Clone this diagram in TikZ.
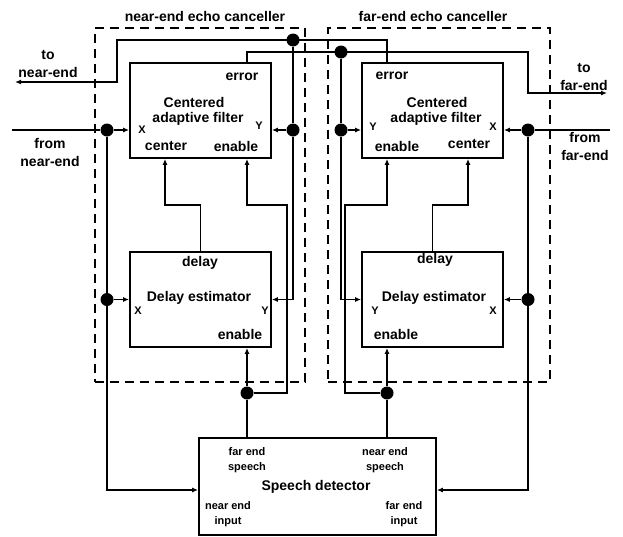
\documentclass[tikz,border=0pt]{standalone}
\usepackage{fontspec}
\setmainfont{Liberation Sans}
\usetikzlibrary{arrows.meta,positioning}

\tikzset{
  block/.style={draw, line width=1.8pt, minimum width=141pt, minimum height=95pt, inner sep=0pt},
  canceller/.style={draw, line width=1.2pt, dash pattern=on 9pt off 6pt},
  junction/.style={circle, fill, inner sep=0pt, minimum size=13pt},
  wire/.style={line width=1.2pt},
  feed/.style={wire, -{Latex[length=6pt,width=5pt]}},
  txt/.style={font=\fontsize{14}{18}\selectfont\bfseries, inner sep=0pt, align=center},
  port/.style={font=\fontsize{11}{15}\selectfont\bfseries, inner sep=0pt, align=center},
}

\begin{document}
\begin{tikzpicture}[x=1pt,y=-1pt]
\useasboundingbox (0,0) rectangle (623,536);

% echo canceller frames
\node[canceller, minimum width=210pt, minimum height=354pt] (ecN) at (200,205) {};
\node[canceller, minimum width=222pt, minimum height=354pt] (ecF) at (439,205) {};
\node[txt] (ecNl) at (205,16) {near-end echo canceller};
\node[txt] (ecFl) at (433,16) {far-end echo canceller};

% blocks
\node[block] (cafN) at (200.5,110.5) {};
\node[block] (delN) at (200.5,299.5) {};
\node[block] (cafF) at (432.5,110.5) {};
\node[block] (delF) at (432.5,299.5) {};
\node[block, minimum width=237pt, minimum height=97pt] (sd) at (317.5,486.5) {};

% block texts, near end
\node[txt] (cafNerr) at (242,77) {error};
\node[txt] (cafNt1) at (194,102) {Centered};
\node[txt] (cafNt2) at (198,119) {adaptive filter};
\node[port] (cafNx) at (142,130) {X};
\node[port] (cafNy) at (259,126) {Y};
\node[txt] (cafNc) at (166,146) {center};
\node[txt] (cafNe) at (236,146) {enable};
\node[txt] (delNd) at (200,263) {delay};
\node[txt] (delNt) at (199,298) {Delay estimator};
\node[port] (delNx) at (138,311) {X};
\node[port] (delNy) at (265,311) {Y};
\node[txt] (delNe) at (240,334) {enable};

% block texts, far end
\node[txt] (cafFerr) at (392,76) {error};
\node[txt] (cafFt1) at (437,102) {Centered};
\node[txt] (cafFt2) at (436,119) {adaptive filter};
\node[port] (cafFy) at (373,127) {Y};
\node[port] (cafFx) at (493,127) {X};
\node[txt] (cafFe) at (397,146) {enable};
\node[txt] (cafFc) at (469,144) {center};
\node[txt] (delFd) at (435,260) {delay};
\node[txt] (delFt) at (434,298) {Delay estimator};
\node[port] (delFy) at (375,311) {Y};
\node[port] (delFx) at (493,311) {X};
\node[txt] (delFe) at (396,334) {enable};

% speech detector texts
\node[port] (sdfs) at (247,460.5) {far end\\speech};
\node[port] (sdns) at (385,460.5) {near end\\speech};
\node[txt] (sdt) at (316,487) {Speech detector};
\node[port] (sdni) at (228,514) {near end\\input};
\node[port] (sdfi) at (404,514) {far end\\input};

% outside texts
\node[txt] (toNl) at (48,64) {to\\near-end};
\node[txt] (fromNl) at (50,152) {from\\near-end};
\node[txt] (toFl) at (584,77) {to\\far-end};
\node[txt] (fromFl) at (585,146) {from\\far-end};

% free ends and bends
\coordinate (inN) at (12,130);
\coordinate (outN) at (15,82);
\coordinate (toN) at (117,82);
\coordinate (inF) at (610,130);
\coordinate (outF) at (607,93);
\coordinate (toF) at (528,93);
\coordinate (nearIn) at (107,490);
\coordinate (farIn) at (528,490);
\coordinate (cN) at (165,205);
\coordinate (cF) at (468,205);
\coordinate (enN) at (287,205);
\coordinate (enF) at (345,205);

% junctions
\node[junction] (xN) at (107,130) {};
\node[junction] (xN2) at (107,299.5) {};
\node[junction] (xF) at (528,130) {};
\node[junction] (xF2) at (528,299.5) {};
\node[junction] (eN) at (293,40) {};
\node[junction] (yN) at (293,130) {};
\node[junction] (eF) at (341,52) {};
\node[junction] (yF) at (341,130) {};
\node[junction] (sN) at (247,393) {};
\node[junction] (sF) at (387,393) {};

% X inputs
\draw[wire] (inN) -- (xN);
\draw[feed] (xN) -- (cafN.west |- xN);
\draw[wire] (xN) -- (xN2);
\draw[feed] (xN2) -- (delN.west);
\draw[feed] (xN2) -- (nearIn) -- (sd.west |- nearIn);
\draw[wire] (inF) -- (xF);
\draw[feed] (xF) -- (cafF.east |- xF);
\draw[wire] (xF) -- (xF2);
\draw[feed] (xF2) -- (delF.east);
\draw[feed] (xF2) -- (farIn) -- (sd.east |- farIn);

% error outputs
\draw[feed] (cafF.north -| sF) |- (eN.center) -| (toN) -- (outN);
\draw[feed] (cafN.north -| sN) |- (eF.center) -| (toF) -- (outF);

% Y inputs
\draw[wire] (eN) -- (yN);
\draw[feed] (yN) -- (cafN.east |- yN);
\draw[feed] (yN) |- (delN.east);
\draw[wire] (eF) -- (yF);
\draw[feed] (yF) -- (cafF.west |- yF);
\draw[feed] (yF) |- (delF.west);

% delay to center
\draw[feed] (delN.north) |- (cN) -- (cafN.south -| cN);
\draw[feed] (delF.north) |- (cF) -- (cafF.south -| cF);

% speech to enable
\draw[wire] (sd.north -| sN) -- (sN);
\draw[feed] (sN) -- (delN.south -| sN);
\draw[feed] (sN) -| (enN) -- (enN -| sN) -- (cafN.south -| sN);
\draw[wire] (sd.north -| sF) -- (sF);
\draw[feed] (sF) -- (delF.south -| sF);
\draw[feed] (sF) -| (enF) -- (enF -| sF) -- (cafF.south -| sF);
\end{tikzpicture}
\end{document}
